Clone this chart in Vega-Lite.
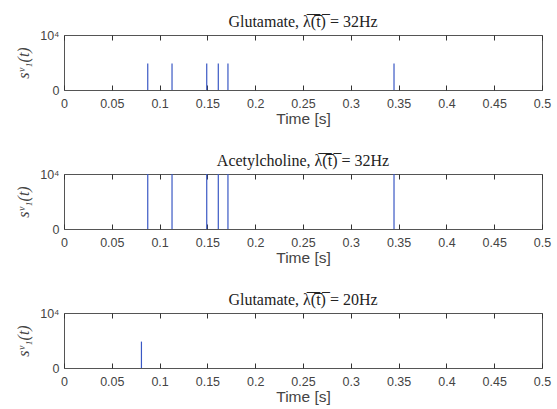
{
  "$schema": "https://vega.github.io/schema/vega-lite/v6.json",
  "padding": {"left": 15, "top": 13, "right": 10, "bottom": 2},
  "background": "white",
  "spacing": 24,
  "config": {
    "view": {"stroke": "#555555", "strokeWidth": 1},
    "axis": {"grid": false, "domain": false, "labelFont": "Liberation Sans", "labelFontSize": 12.5, "labelColor": "#444444", "tickColor": "#333333", "titleColor": "#444444"},
    "title": {"font": "Liberation Serif", "fontSize": 16, "fontWeight": "normal", "color": "#222222", "offset": -1}
  },
  "datasets": {
    "spikes": [
      {"panel": 1, "t": 0.0876, "v": 4800},
      {"panel": 1, "t": 0.1130, "v": 4800},
      {"panel": 1, "t": 0.1493, "v": 4800},
      {"panel": 1, "t": 0.1614, "v": 4800},
      {"panel": 1, "t": 0.1715, "v": 4800},
      {"panel": 1, "t": 0.3452, "v": 4800},
      {"panel": 2, "t": 0.0876, "v": 10000},
      {"panel": 2, "t": 0.1130, "v": 10000},
      {"panel": 2, "t": 0.1493, "v": 10000},
      {"panel": 2, "t": 0.1614, "v": 10000},
      {"panel": 2, "t": 0.1715, "v": 10000},
      {"panel": 2, "t": 0.3452, "v": 10000},
      {"panel": 3, "t": 0.0810, "v": 4800}
    ]
  },
  "vconcat": [
    {
      "width": 478, "height": 55,
      "title": "Glutamate, λ̅(̅t̅)̅ = 32Hz",
      "data": {"name": "spikes"},
      "transform": [{"filter": "datum.panel == 1"}],
      "layer": [
        {
          "mark": {"type": "rule", "color": "#3a58c4", "strokeWidth": 1.2, "clip": true},
          "encoding": {
            "x": {"field": "t", "type": "quantitative", "scale": {"domain": [0, 0.5], "nice": false, "zero": false},
                  "axis": {"values": [0, 0.05, 0.1, 0.15, 0.2, 0.25, 0.3, 0.35, 0.4, 0.45, 0.5], "labelExpr": "format(datum.value, '~g')", "tickSize": -5, "labelPadding": 12, "title": "Time [s]", "titleFont": "Liberation Sans", "titleFontSize": 15.5, "titleFontWeight": "normal", "titlePadding": 2, "labelFlush": false}},
            "y": {"field": "v", "type": "quantitative", "scale": {"domain": [0, 10000], "nice": false},
                  "axis": {"values": [0, 10000], "labelExpr": "datum.value == 0 ? '0' : '10⁴'", "tickSize": 0, "labelPadding": 5, "title": "sᵛ₁(t)", "titleFont": "Liberation Serif", "titleFontStyle": "italic", "titleFontSize": 16, "titleFontWeight": "normal", "titlePadding": 8, "labelFlush": false}},
            "y2": {"datum": 0}
          }
        },
        {
          "mark": {"type": "rule", "opacity": 0},
          "encoding": {
            "x": {"field": "t", "type": "quantitative", "scale": {"domain": [0, 0.5], "nice": false, "zero": false},
                  "axis": {"orient": "top", "values": [0, 0.05, 0.1, 0.15, 0.2, 0.25, 0.3, 0.35, 0.4, 0.45, 0.5], "labels": false, "tickSize": -5, "title": null}}
          }
        }
      ],
      "resolve": {"axis": {"x": "independent"}}
    },
    {
      "width": 478, "height": 55,
      "title": "Acetylcholine, λ̅(̅t̅)̅ = 32Hz",
      "data": {"name": "spikes"},
      "transform": [{"filter": "datum.panel == 2"}],
      "layer": [
        {
          "mark": {"type": "rule", "color": "#3a58c4", "strokeWidth": 1.2, "clip": true},
          "encoding": {
            "x": {"field": "t", "type": "quantitative", "scale": {"domain": [0, 0.5], "nice": false, "zero": false},
                  "axis": {"values": [0, 0.05, 0.1, 0.15, 0.2, 0.25, 0.3, 0.35, 0.4, 0.45, 0.5], "labelExpr": "format(datum.value, '~g')", "tickSize": -5, "labelPadding": 12, "title": "Time [s]", "titleFont": "Liberation Sans", "titleFontSize": 15.5, "titleFontWeight": "normal", "titlePadding": 2, "labelFlush": false}},
            "y": {"field": "v", "type": "quantitative", "scale": {"domain": [0, 10000], "nice": false},
                  "axis": {"values": [0, 10000], "labelExpr": "datum.value == 0 ? '0' : '10⁴'", "tickSize": 0, "labelPadding": 5, "title": "sᵛ₁(t)", "titleFont": "Liberation Serif", "titleFontStyle": "italic", "titleFontSize": 16, "titleFontWeight": "normal", "titlePadding": 8, "labelFlush": false}},
            "y2": {"datum": 0}
          }
        },
        {
          "mark": {"type": "rule", "opacity": 0},
          "encoding": {
            "x": {"field": "t", "type": "quantitative", "scale": {"domain": [0, 0.5], "nice": false, "zero": false},
                  "axis": {"orient": "top", "values": [0, 0.05, 0.1, 0.15, 0.2, 0.25, 0.3, 0.35, 0.4, 0.45, 0.5], "labels": false, "tickSize": -5, "title": null}}
          }
        }
      ],
      "resolve": {"axis": {"x": "independent"}}
    },
    {
      "width": 478, "height": 55,
      "title": "Glutamate, λ̅(̅t̅)̅ = 20Hz",
      "data": {"name": "spikes"},
      "transform": [{"filter": "datum.panel == 3"}],
      "layer": [
        {
          "mark": {"type": "rule", "color": "#3a58c4", "strokeWidth": 1.2, "clip": true},
          "encoding": {
            "x": {"field": "t", "type": "quantitative", "scale": {"domain": [0, 0.5], "nice": false, "zero": false},
                  "axis": {"values": [0, 0.05, 0.1, 0.15, 0.2, 0.25, 0.3, 0.35, 0.4, 0.45, 0.5], "labelExpr": "format(datum.value, '~g')", "tickSize": -5, "labelPadding": 12, "title": "Time [s]", "titleFont": "Liberation Sans", "titleFontSize": 15.5, "titleFontWeight": "normal", "titlePadding": 2, "labelFlush": false}},
            "y": {"field": "v", "type": "quantitative", "scale": {"domain": [0, 10000], "nice": false},
                  "axis": {"values": [0, 10000], "labelExpr": "datum.value == 0 ? '0' : '10⁴'", "tickSize": 0, "labelPadding": 5, "title": "sᵛ₁(t)", "titleFont": "Liberation Serif", "titleFontStyle": "italic", "titleFontSize": 16, "titleFontWeight": "normal", "titlePadding": 8, "labelFlush": false}},
            "y2": {"datum": 0}
          }
        },
        {
          "mark": {"type": "rule", "opacity": 0},
          "encoding": {
            "x": {"field": "t", "type": "quantitative", "scale": {"domain": [0, 0.5], "nice": false, "zero": false},
                  "axis": {"orient": "top", "values": [0, 0.05, 0.1, 0.15, 0.2, 0.25, 0.3, 0.35, 0.4, 0.45, 0.5], "labels": false, "tickSize": -5, "title": null}}
          }
        }
      ],
      "resolve": {"axis": {"x": "independent"}}
    }
  ]
}
